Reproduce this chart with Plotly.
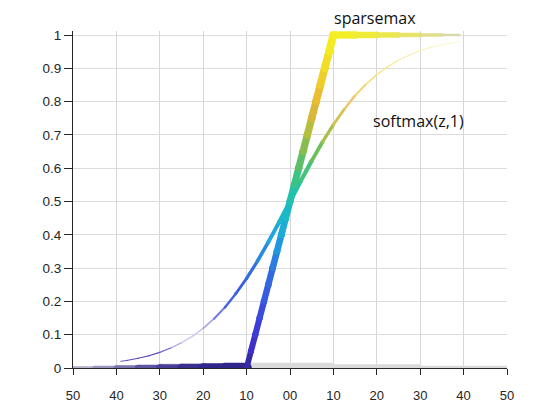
import plotly.graph_objects as go

# ---------------- data ----------------
X_TICKS = [-50, -40, -30, -20, -10, 0, 10, 20, 30, 40, 50]
X_TICK_LABELS = ["50", "40", "30", "20", "10", "00", "10", "20", "30", "40", "50"]
Y_TICKS = [0, 0.1, 0.2, 0.3, 0.4, 0.5, 0.6, 0.7, 0.8, 0.9, 1]

# sparsemax ribbon (flat at 0, linear rise, flat at 1)
SPARSE_X = [-50, -45, -40, -35, -30, -25, -20, -15, -10,
            -9, -8, -7, -6, -5, -4, -3, -2, -1, 0,
            1, 2, 3, 4, 5, 6, 7, 8, 9, 10,
            15, 20, 25, 30, 35, 39]
SPARSE_Y = [0, 0, 0, 0, 0, 0, 0, 0, 0,
            0.05, 0.10, 0.15, 0.20, 0.25, 0.30, 0.35, 0.40, 0.45, 0.50,
            0.55, 0.60, 0.65, 0.70, 0.75, 0.80, 0.85, 0.90, 0.95, 1.0,
            1.0, 1.0, 1.0, 1.0, 1.0, 1.0]

# softmax(z,1) ribbon
SOFT_X = [-39, -37.5, -35, -32.5, -30, -27.5, -25, -22.5, -20, -17.5, -15, -12.5,
          -10, -7.5, -5, -2.5, 0, 2.5, 5, 7.5, 10, 12.5, 15, 17.5, 20, 22.5,
          25, 27.5, 30, 32.5, 35, 37.5, 39]
SOFT_Y = [0.020, 0.023, 0.029, 0.037, 0.047, 0.060, 0.076, 0.095, 0.119, 0.148, 0.182, 0.223,
          0.269, 0.321, 0.378, 0.438, 0.500, 0.562, 0.622, 0.679, 0.731, 0.777, 0.818, 0.852,
          0.881, 0.905, 0.924, 0.940, 0.953, 0.963, 0.971, 0.977, 0.980]

# zero-level surface seen edge-on
ZERO_X = [-50, -30, -10, 10, 30, 50]
ZERO_Y = [0, 0, 0, 0, 0, 0]

# ---------------- styles ----------------
SPARSE_W = [1.5, 2, 2.5, 3, 3.5, 4, 4.5, 5, 5.5,
            6.0, 6.1, 6.2, 6.3, 6.4, 6.5, 6.6, 6.7, 6.8, 6.9,
            7.0, 7.1, 7.2, 7.3, 7.4, 7.5, 7.6, 7.7, 7.8, 7.8,
            7, 6, 5, 4, 3, 2]
SPARSE_FADE = [0.9, 0.75, 0.55, 0.35, 0.2, 0.1, 0, 0, 0,
               0, 0, 0, 0, 0, 0, 0, 0, 0, 0,
               0, 0, 0, 0, 0, 0, 0, 0, 0, 0,
               0.08, 0.18, 0.32, 0.5, 0.68, 0.85]
SOFT_W = [0.8, 0.9, 1.0, 1.1, 1.2, 1.2, 1.3, 1.4, 1.6, 1.9, 2.2, 2.6,
          3.0, 3.4, 3.8, 4.1, 4.3, 4.3, 4.1, 3.6, 3.1, 2.6, 2.2, 1.9,
          1.6, 1.4, 1.3, 1.2, 1.1, 1.0, 0.9, 0.8, 0.7]
SOFT_FADE = [0.1, 0.1, 0.1, 0.12, 0.15, 0.4, 0.7, 0.8, 0.7, 0.4, 0.15, 0.0,
             0, 0, 0, 0, 0, 0, 0, 0, 0.1, 0.2, 0.3, 0.4,
             0.5, 0.55, 0.6, 0.65, 0.7, 0.72, 0.74, 0.75, 0.78]
ZERO_W = [1.0, 3.0, 6.0, 4.5, 3.0, 1.5]

SCALE = [
    (0.00, (48, 38, 140)), (0.05, (60, 45, 190)), (0.12, (62, 58, 215)),
    (0.22, (55, 90, 225)), (0.30, (50, 110, 225)), (0.40, (30, 165, 220)),
    (0.50, (24, 192, 190)), (0.58, (60, 195, 130)), (0.65, (110, 190, 90)),
    (0.72, (180, 190, 60)), (0.80, (232, 180, 55)), (0.90, (240, 215, 40)),
    (1.00, (245, 240, 30)),
]


def scale_color(v):
    v = max(0.0, min(1.0, v))
    for (a, ca), (b, cb) in zip(SCALE[:-1], SCALE[1:]):
        if a <= v <= b:
            t = 0 if b == a else (v - a) / (b - a)
            return tuple(ca[k] + (cb[k] - ca[k]) * t for k in range(3))
    return SCALE[-1][1]


def mix(c, target, f):
    return "rgb(%d,%d,%d)" % tuple(round(c[k] + (target[k] - c[k]) * f) for k in range(3))


def ribbon(fig, xs, ys, ws, fades, target):
    for i in range(len(xs) - 1):
        ym = (ys[i] + ys[i + 1]) / 2
        w = (ws[i] + ws[i + 1]) / 2
        f = (fades[i] + fades[i + 1]) / 2
        if ys[i] == 0 and ys[i + 1] == 0:
            w *= 2  # half of the ribbon is hidden below the floor
        col = mix(scale_color(ym), target, f)
        fig.add_trace(go.Scatter(
            x=[xs[i], xs[i + 1]], y=[ys[i], ys[i + 1]],
            mode="lines+markers",
            line=dict(color=col, width=w),
            marker=dict(color=col, size=w, line=dict(width=0)),
            hoverinfo="skip", showlegend=False,
        ))


fig = go.Figure()

# zero surface band (only the upper half shows above the floor line)
for i in range(len(ZERO_X) - 1):
    fig.add_trace(go.Scatter(
        x=[ZERO_X[i], ZERO_X[i + 1]], y=[ZERO_Y[i], ZERO_Y[i + 1]],
        mode="lines", line=dict(color="rgb(218,218,218)", width=(ZERO_W[i] + ZERO_W[i + 1])),
        hoverinfo="skip", showlegend=False,
    ))

ribbon(fig, SOFT_X, SOFT_Y, SOFT_W, SOFT_FADE, (250, 250, 250))
ribbon(fig, SPARSE_X, SPARSE_Y, SPARSE_W, SPARSE_FADE, (210, 210, 215))

AX = "#262626"
fig.update_layout(
    width=560, height=420,
    margin=dict(l=65, r=61, t=23, b=60),
    paper_bgcolor="white", plot_bgcolor="white",
    showlegend=False,
    font=dict(family="Liberation Sans, Arial, sans-serif", color=AX, size=13),
    xaxis=dict(
        range=[-50, 50], tickvals=X_TICKS, ticktext=X_TICK_LABELS,
        showgrid=True, gridcolor="#d6d6d6", gridwidth=1,
        zeroline=False, showline=True, linecolor=AX, linewidth=1,
        ticks="outside", ticklen=6, tickcolor=AX,
        ticklabelstandoff=9, tickfont=dict(size=13, color=AX),
    ),
    yaxis=dict(
        range=[0, 1.012], tickvals=Y_TICKS,
        showgrid=True, gridcolor="#dcdcdc", gridwidth=1,
        zeroline=False, showline=True, linecolor=AX, linewidth=1,
        ticks="outside", ticklen=8, tickcolor=AX,
        tickfont=dict(size=13.5, color=AX),
    ),
    annotations=[
        dict(text="sparsemax", x=19.6, y=1.039, xref="x", yref="paper", showarrow=False,
             xanchor="center", yanchor="middle",
             font=dict(family="Open Sans, sans-serif", size=16, color="#111111")),
        dict(text="softmax(z,1)", x=29.5, y=0.742, xref="x", yref="y", showarrow=False,
             xanchor="center", yanchor="middle",
             font=dict(family="Open Sans, sans-serif", size=16, color="#111111")),
    ],
)

fig.write_html("out.html")
